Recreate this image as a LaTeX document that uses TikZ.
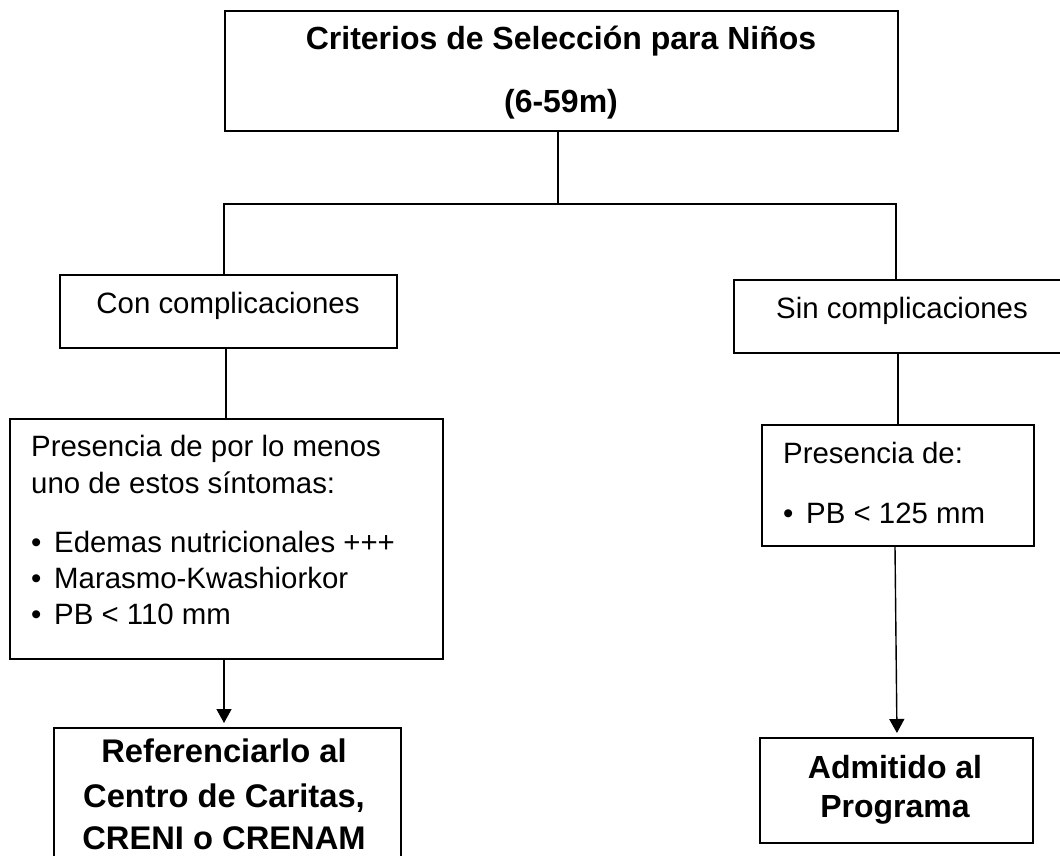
\documentclass[tikz,border=0pt]{standalone}
\usepackage{fontspec}
\setmainfont{Liberation Sans}
\usetikzlibrary{arrows.meta}
\begin{document}
\begin{tikzpicture}[x=1pt,y=-1pt,
  box/.style={draw, line width=1.6pt, inner sep=0pt, anchor=north west},
  reg/.style={font=\fontsize{29.4}{35}\selectfont, inner sep=0pt},
  bld/.style={font=\fontsize{32}{40}\selectfont\bfseries, inner sep=0pt, anchor=base},
  bldr/.style={font=\fontsize{32.7}{40}\selectfont\bfseries, inner sep=0pt, anchor=base},
  conn/.style={line width=1.4pt},
  arr/.style={line width=1.4pt, -{Triangle[length=14pt,width=15pt]}, shorten >=4pt}
]
\clip (0,0) rectangle (1060,856);
\useasboundingbox (0,0) rectangle (1060,856);

% boxes
\node[box, minimum width=673pt, minimum height=120pt] (top) at (224,10) {};
\node[box, minimum width=337pt, minimum height=73pt] (con) at (59,274) {};
\node[box, minimum width=338pt, minimum height=73pt] (sin) at (733,279) {};
\node[box, minimum width=433pt, minimum height=240pt] (presL) at (9,418) {};
\node[box, minimum width=272pt, minimum height=121pt] (presR) at (761,424) {};
\node[box, minimum width=347pt, minimum height=180pt] (ref) at (53,727) {};
\node[box, minimum width=273pt, minimum height=105pt] (adm) at (759,737) {};

% texts
\node[bld] (t1) at (561,50) {Criterios de Selección para Niños};
\node[bld] (t2) at (561,113) {(6-59m)};
\node[reg, anchor=base] (tcon) at (228,313) {Con complicaciones};
\node[reg, anchor=base] (tsin) at (902,318) {Sin complicaciones};
\node[reg, anchor=base west] (pl1) at (31,456) {Presencia de por lo menos};
\node[reg, anchor=base west] (pl2) at (31,493) {uno de estos síntomas:};
\node[reg, anchor=base west] (pl3) at (31,552) {\makebox[23pt][l]{•}Edemas nutricionales +++};
\node[reg, anchor=base west] (pl4) at (31,588) {\makebox[23pt][l]{•}Marasmo-Kwashiorkor};
\node[reg, anchor=base west] (pl5) at (31,624) {\makebox[23pt][l]{•}PB < 110 mm};
\node[reg, anchor=base west] (pr1) at (783,463) {Presencia de:};
\node[reg, anchor=base west] (pr2) at (783,523) {\makebox[23pt][l]{•}PB < 125 mm};
\node[bldr] (r1) at (224,762) {Referenciarlo al};
\node[bldr] (r2) at (224,807) {Centro de Caritas,};
\node[bldr] (r3) at (224,849) {CRENI o CRENAM};
\node[bld] (a1) at (895,778) {Admitido al};
\node[bld] (a2) at (895,817) {Programa};

% connectors
\coordinate (j) at (558,204);
\coordinate (jl) at (224,204);
\coordinate (jr) at (896,204);
\coordinate (cl) at (226,0);
\draw[conn] (top.south -| j) -- (j);
\draw[conn] (con.north -| jl) -- (jl) -- (jr) -- (sin.north -| jr);
\draw[conn] (con.south -| cl) -- (presL.north -| cl);
\draw[conn] (presR.north |- sin.south) -- (presR.north);
\draw[arr] (presL.south -| 224,0) -- (ref.north -| 224,0);
\draw[arr] (presR.south -| 895,0) -- (adm.north -| 897,0);
\end{tikzpicture}
\end{document}
